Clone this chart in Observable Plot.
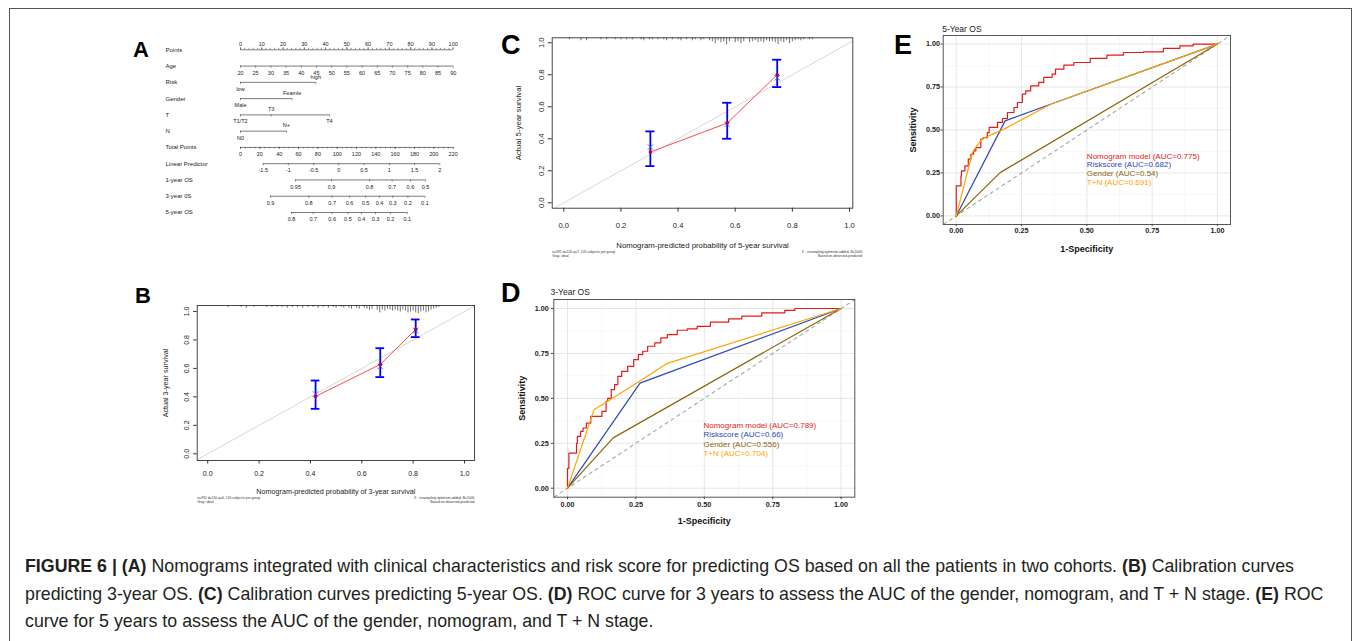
<!DOCTYPE html>
<html><head><meta charset="utf-8">
<script src="https://cdn.jsdelivr.net/npm/d3@7"></script>
<script src="https://cdn.jsdelivr.net/npm/@observablehq/plot@0.6"></script>
<style>
html,body{margin:0;padding:0;background:#fff;}
body{font-family:"Liberation Sans",Arial,Helvetica,sans-serif;}
#page{position:relative;width:1355px;height:641px;overflow:hidden;background:#fff;}
#border{position:absolute;left:9px;top:8px;width:1343px;height:720px;border:1.5px solid #555;box-sizing:border-box;}
.panel{position:absolute;}
.panel svg{overflow:visible;}
.letter{position:absolute;font-weight:bold;line-height:1;color:#000;}
#caption{position:absolute;left:25px;top:553px;font-size:17.8px;line-height:27.5px;color:#231f20;white-space:nowrap;}
</style>
</head><body>
<div id="page">
  <div id="border"></div>
  <div class="panel" id="pA" style="left:130px;top:30px"></div>
  <div class="panel" id="pB" style="left:150px;top:285px"></div>
  <div class="panel" id="pC" style="left:505px;top:20px"></div>
  <div class="panel" id="pD" style="left:495px;top:280px"></div>
  <div class="panel" id="pE" style="left:890px;top:20px"></div>
  <div class="letter" style="left:133px;top:39px;font-size:22px">A</div>
  <div class="letter" style="left:135px;top:285px;font-size:22px">B</div>
  <div class="letter" style="left:501px;top:31.5px;font-size:27px">C</div>
  <div class="letter" style="left:501px;top:280px;font-size:27px">D</div>
  <div class="letter" style="left:894px;top:31.5px;font-size:27px">E</div>
  <div id="caption"><b>FIGURE 6 | (A)</b> Nomograms integrated with clinical characteristics and risk score for predicting OS based on all the patients in two cohorts. <b>(B)</b> Calibration curves<br>predicting 3-year OS. <b>(C)</b> Calibration curves predicting 5-year OS. <b>(D)</b> ROC curve for 3 years to assess the AUC of the gender, nomogram, and T + N stage. <b>(E)</b> ROC<br>curve for 5 years to assess the AUC of the gender, nomogram, and T + N stage.</div>
</div>
<script>
const FONT = '"Liberation Sans", Arial, Helvetica, sans-serif';

// ---------- Panel A: nomogram ----------
const nomoRows = ["Points","Age","Risk","Gender","T","N","Total Points","Linear Predictor","1-year OS","3-year 0S","5-year OS"];
const pointsLabels = [0,10,20,30,40,50,60,70,80,90,100];
const ageLabels = [20,25,30,35,40,45,50,55,60,65,70,75,80,85,90];
const agePts = [0,7.1,14.3,21.4,28.6,35.7,42.9,50,57.1,64.3,71.4,78.6,85.7,92.9,100];
const riskLabels = ["low","high"];
const riskPts = [0,35.4];
const riskSide = [1,-1];
const genderLabels = ["Male","Feamle"];
const genderPts = [0,24.3];
const genderSide = [1,-1];
const tLabels = ["T1/T2","T3","T4"];
const tPts = [0,14.4,41.8];
const tSide = [1,-1,1];
const nLabels = ["N0","N+"];
const nPts = [0,21.6];
const nSide = [1,-1];
const totalLabels = [0,20,40,60,80,100,120,140,160,180,200,220];
const totalPts = [0,9.1,18.2,27.3,36.4,45.5,54.5,63.6,72.7,81.8,90.9,100];
const lpLabels = ["-1.5","-1","-0.5","0","0.5","1","1.5","2"];
const lpPts = [10.7,22.5,34.4,46.2,58.1,70.0,81.8,93.7];
const os1Labels = ["0.95","0.9","0.8","0.7","0.6","0.5"];
const os1Pts = [25.9,42.8,60.7,71.3,79.9,87.0];
const os3Labels = ["0.9","0.8","0.7","0.6","0.5","0.4","0.3","0.2","0.1"];
const os3Pts = [14.1,32.1,43.1,51.3,58.8,65.4,71.6,78.7,86.7];
const os5Labels = ["0.8","0.7","0.6","0.5","0.4","0.3","0.2","0.1"];
const os5Pts = [24.0,34.2,43.1,50.5,56.9,63.5,70.5,78.4];

// ---------- Panels B/C: calibration ----------
const calB_pred = [0.42,0.672,0.81];
const calB_obs = [0.403,0.628,0.874];
const calB_lo = [0.316,0.539,0.82];
const calB_hi = [0.515,0.742,0.944];
const calB_corr = [0.42,0.614,0.867];
const rugB_x = [0.08,0.13,0.15,0.18,0.23,0.25,0.27,0.29,0.31,0.33,0.35,0.37,0.39,0.41,0.43,0.45,0.47,0.49,0.50,0.52,0.53,0.55,0.56,0.58,0.59,0.61,0.62,0.63,0.64,0.66,0.67,0.68,0.69,0.70,0.71,0.72,0.73,0.74,0.75,0.76,0.77,0.78,0.79,0.80,0.81,0.82,0.83,0.84,0.85,0.86,0.87,0.88,0.89,0.90];
const rugB_n = [2,2,3,2,2,2,2,2,3,2,2,3,2,2,3,2,3,2,3,2,3,3,4,3,4,3,4,5,4,5,8,5,6,4,5,6,5,6,7,5,6,8,7,6,8,9,7,6,8,7,5,4,3,2];

const calC_pred = [0.303,0.572,0.747];
const calC_obs = [0.317,0.498,0.80];
const calC_lo = [0.229,0.40,0.723];
const calC_hi = [0.446,0.625,0.894];
const calC_corr = [0.348,0.49,0.781];
const rugC_x = [0.02,0.06,0.08,0.13,0.15,0.18,0.20,0.22,0.24,0.27,0.28,0.30,0.31,0.33,0.35,0.36,0.38,0.40,0.41,0.43,0.45,0.46,0.48,0.49,0.51,0.52,0.53,0.54,0.55,0.56,0.57,0.58,0.60,0.61,0.62,0.63,0.65,0.66,0.67,0.68,0.69,0.70,0.71,0.72,0.73,0.74,0.75,0.76,0.77,0.78,0.79,0.80,0.81,0.82,0.83,0.84,0.86,0.87];
const rugC_n = [2,3,3,2,2,2,2,2,2,2,3,2,2,2,2,3,2,2,3,2,3,2,3,2,3,4,6,3,5,4,7,4,5,4,6,4,5,4,3,5,4,5,3,4,4,5,7,4,5,3,6,4,3,2,3,2,2,2];

// ---------- Panels D/E: ROC ----------
const rocSeries = ["Nomogram model","Riskscore","Gender","T+N"];
const rocColors = ["#E41A1C","#2A48B8","#8B6508","#FFA500"];
const aucD = ["0.789","0.66","0.556","0.704"];
const aucE = ["0.775","0.682","0.54","0.691"];

const nomoD_x = [0,0,0.005,0.012,0.033,0.036,0.048,0.057,0.069,0.085,0.093,0.126,0.141,0.147,0.160,0.172,0.184,0.198,0.220,0.242,0.259,0.275,0.293,0.319,0.341,0.365,0.401,0.438,0.474,0.522,0.589,0.637,0.710,0.794,0.831,0.867,1.0];
const nomoD_y = [0,0.013,0.11,0.195,0.195,0.25,0.288,0.316,0.335,0.362,0.40,0.40,0.427,0.483,0.50,0.548,0.576,0.622,0.650,0.678,0.716,0.743,0.762,0.790,0.809,0.837,0.855,0.879,0.887,0.901,0.924,0.942,0.957,0.976,0.99,1.0,1.0];
const riskD_x = [0,0.265,1];
const riskD_y = [0,0.585,1];
const genderD_x = [0,0.167,1];
const genderD_y = [0,0.28,1];
const tnD_x = [0,0.097,0.262,0.362,1];
const tnD_y = [0,0.437,0.594,0.693,1];

const nomoE_x = [0,0,0.018,0.020,0.033,0.046,0.056,0.066,0.075,0.094,0.103,0.119,0.126,0.158,0.177,0.196,0.221,0.234,0.253,0.266,0.285,0.316,0.335,0.367,0.380,0.412,0.450,0.513,0.577,0.640,0.717,0.793,0.856,0.907,0.958,1.0];
const nomoE_y = [0,0.175,0.175,0.233,0.262,0.291,0.33,0.359,0.379,0.398,0.447,0.456,0.485,0.515,0.544,0.567,0.602,0.631,0.660,0.709,0.728,0.757,0.777,0.806,0.825,0.854,0.878,0.893,0.917,0.936,0.951,0.955,0.975,0.990,1.0,1.0];
const riskE_x = [0,0.187,0.361,1];
const riskE_y = [0,0.553,0.650,1];
const genderE_x = [0,0.168,1];
const genderE_y = [0,0.252,1];
const tnE_x = [0,0.062,0.069,0.100,0.183,0.361,1];
const tnE_y = [0,0.369,0.388,0.45,0.505,0.650,1];

// ====== build panel A ======
(function(){
  const axes = [
    {row:0, labels: pointsLabels.map(String), pts: pointsLabels, side: pointsLabels.map(() => -1), minor: d3.range(0, 101, 2)},
    {row:1, labels: ageLabels.map(String), pts: agePts, side: ageLabels.map(() => 1), minor: []},
    {row:2, labels: riskLabels, pts: riskPts, side: riskSide, minor: []},
    {row:3, labels: genderLabels, pts: genderPts, side: genderSide, minor: []},
    {row:4, labels: tLabels, pts: tPts, side: tSide, minor: []},
    {row:5, labels: nLabels, pts: nPts, side: nSide, minor: []},
    {row:6, labels: totalLabels.map(String), pts: totalPts, side: totalLabels.map(() => 1), minor: d3.range(0, 221, 5).map(v => v / 2.2)},
    {row:7, labels: lpLabels, pts: lpPts, side: lpLabels.map(() => 1), minor: []},
    {row:8, labels: os1Labels, pts: os1Pts, side: os1Labels.map(() => 1), minor: []},
    {row:9, labels: os3Labels, pts: os3Pts, side: os3Labels.map(() => 1), minor: []},
    {row:10, labels: os5Labels, pts: os5Pts, side: os5Labels.map(() => 1), minor: []}
  ];
  const segs = axes.map(a => ({row: a.row, x1: d3.min(a.pts), x2: d3.max(a.pts)}));
  const ticks = [];
  const labs = [];
  axes.forEach(a => {
    a.pts.forEach((p, i) => {
      const s = a.row === 0 ? -1 : 1;
      ticks.push({row: a.row, x: p, len: 0.13 * s});
      labs.push({row: a.row, x: p, text: a.labels[i], side: a.side[i]});
    });
    a.minor.forEach(p => ticks.push({row: a.row, x: p, len: (a.row === 0 ? -1 : 1) * 0.09}));
  });
  const svg = Plot.plot({
    width: 340, height: 200,
    marginLeft: 110, marginRight: 17.3, marginTop: 19.3, marginBottom: 18,
    x: {domain: [0, 100], axis: null},
    y: {domain: [0, 10], reverse: true, axis: null},
    style: {fontFamily: FONT, fontSize: "5.5px", color: "#222", background: "transparent"},
    marks: [
      Plot.ruleY(segs, {y: "row", x1: "x1", x2: "x2", stroke: "#444", strokeWidth: 0.7}),
      Plot.ruleX(ticks, {x: "x", y1: "row", y2: d => d.row + d.len, stroke: "#444", strokeWidth: 0.6}),
      Plot.text(labs, {x: "x", y: d => d.row + (d.side < 0 ? -0.34 : 0.42), text: "text", fill: "#222", fontSize: 5.5}),
      Plot.text(nomoRows, {y: (d, i) => i, frameAnchor: "left", dx: -75, textAnchor: "start", text: d => d, fill: "#222", fontSize: 6})
    ]
  });
  document.getElementById("pA").appendChild(svg);
})();

// ====== calibration builder ======
function calPlot(o) {
  const pts = o.pred.map((p, i) => ({x: p, obs: o.obs[i], lo: o.lo[i], hi: o.hi[i], corr: o.corr[i]}));
  const rug = o.rugX.map((x, i) => ({x, n: o.rugN[i]}));
  const top = o.ydom[1];
  const ticks = [0, 0.2, 0.4, 0.6, 0.8, 1.0];
  const f = o.fs;
  return Plot.plot({
    width: o.w, height: o.h,
    marginLeft: o.ml, marginRight: o.mr, marginTop: o.mt, marginBottom: o.mb,
    x: {domain: o.xdom, axis: null},
    y: {domain: o.ydom, axis: null},
    style: {fontFamily: FONT, fontSize: f + "px", color: "#222", background: "transparent"},
    marks: [
      Plot.link([o.xdom], {x1: d => d[0], y1: d => d[0], x2: d => d[1] + 0.1, y2: d => d[1] + 0.1, stroke: "#d8d8d8", strokeWidth: 1, clip: true}),
      Plot.ruleX(rug, {x: "x", y1: top, y2: d => top - d.n * o.rugK, stroke: "#333", strokeWidth: 0.7}),
      Plot.line(pts, {x: "x", y: "obs", stroke: "#FF4A4A", strokeWidth: 1}),
      Plot.ruleX(pts, {x: "x", y1: "lo", y2: "hi", stroke: "#0000FF", strokeWidth: 1.8}),
      Plot.ruleY(pts, {y: "lo", x1: d => d.x - o.cap, x2: d => d.x + o.cap, stroke: "#0000FF", strokeWidth: 1.8}),
      Plot.ruleY(pts, {y: "hi", x1: d => d.x - o.cap, x2: d => d.x + o.cap, stroke: "#0000FF", strokeWidth: 1.8}),
      Plot.dot(pts, {x: "x", y: "corr", symbol: "times", stroke: "#3355FF", r: 2.6, strokeWidth: 0.8}),
      Plot.dot(pts, {x: "x", y: "obs", fill: "#C0002A", stroke: "none", r: 1.8}),
      Plot.frame({stroke: "#333", strokeWidth: 0.9}),
      Plot.axisX({ticks, tickFormat: d3.format(".1f"), tickSize: o.tick, tickPadding: o.padX, fontSize: f, stroke: "#333", fill: "#222", label: null}),
      Plot.axisY({ticks, tickFormat: d3.format(".1f"), tickSize: o.tick, tickPadding: o.padY, tickRotate: -90, fontSize: f, stroke: "#333", fill: "#222", label: null}),
      Plot.text([o.xlabel], {frameAnchor: "bottom", dy: o.xlabDy, textAnchor: "middle", lineAnchor: "middle", fontSize: o.labFs, fill: "#222"}),
      Plot.text([o.ylabel], {frameAnchor: "left", dx: o.ylabDx, rotate: -90, textAnchor: "middle", lineAnchor: "middle", fontSize: o.labFs, fill: "#222"}),
      Plot.text([o.noteL1], {frameAnchor: "bottom-left", dy: o.noteDy, textAnchor: "start", lineAnchor: "middle", fontSize: 3.4, fill: "#333"}),
      Plot.text(["Gray: ideal"], {frameAnchor: "bottom-left", dy: o.noteDy + 4.6, textAnchor: "start", lineAnchor: "middle", fontSize: 3.4, fill: "#333"}),
      Plot.text(["X - resampling optimism added, B=1000"], {frameAnchor: "bottom-right", dx: o.noteDx, dy: o.noteDy, textAnchor: "end", lineAnchor: "middle", fontSize: 3.4, fill: "#333"}),
      Plot.text(["Based on observed-predicted"], {frameAnchor: "bottom-right", dx: o.noteDx, dy: o.noteDy + 4.6, textAnchor: "end", lineAnchor: "middle", fontSize: 3.4, fill: "#333"})
    ]
  });
}

document.getElementById("pB").appendChild(calPlot({
  pred: calB_pred, obs: calB_obs, lo: calB_lo, hi: calB_hi, corr: calB_corr,
  rugX: rugB_x, rugN: rugB_n, rugK: 0.0065,
  w: 340, h: 230, ml: 46.7, mr: 16, mt: 20, mb: 55,
  xdom: [-0.041, 1.039], ydom: [-0.047, 1.042],
  fs: 7, labFs: 7.2, tick: 3.5, padX: 6.7, padY: 4.5, cap: 0.017,
  xlabel: "Nomogram-predicted probability of 3-year survival", ylabel: "Actual 3-year survival",
  xlabDy: 31, ylabDx: -31.7, noteDy: 37.3, noteDx: 0,
  noteL1: "n=392 d=150 p=6, 120 subjects per group"
}));

document.getElementById("pC").appendChild(calPlot({
  pred: calC_pred, obs: calC_obs, lo: calC_lo, hi: calC_hi, corr: calC_corr,
  rugX: rugC_x, rugN: rugC_n, rugK: 0.0062,
  w: 370, h: 245, ml: 46.7, mr: 22.7, mt: 17.3, mb: 57.3,
  xdom: [-0.0406, 1.0116], ydom: [-0.034, 1.031],
  fs: 7.6, labFs: 7.8, tick: 4, padX: 10.6, padY: 4.7, cap: 0.016,
  xlabel: "Nomogram-predicted probability of 5-year survival", ylabel: "Actual 5-year survival",
  xlabDy: 37.3, ylabDx: -33.4, noteDy: 43.3, noteDx: 9.4,
  noteL1: "n=392 d=150 p=7, 120 subjects per group"
}));

// ====== ROC builder ======
function rocPlot(o) {
  const major = [0, 0.25, 0.5, 0.75, 1];
  const minor = [0.125, 0.375, 0.625, 0.875];
  const dom = [-0.05, 1.05];
  const toRows = (xs, ys) => xs.map((x, i) => ({x, y: ys[i]}));
  const leg = rocSeries.map((s, i) => ({t: `${s} (AUC=${o.auc[i]})`, y: o.legY[i], c: rocColors[i]}));
  return Plot.plot({
    width: o.w, height: o.h,
    marginLeft: o.ml, marginRight: o.mr, marginTop: o.mt, marginBottom: o.mb,
    x: {domain: dom, axis: null},
    y: {domain: dom, axis: null},
    color: {type: "identity"},
    style: {fontFamily: FONT, fontSize: "7.5px", color: "#222", background: "transparent"},
    marks: [
      Plot.gridX(minor, {stroke: "#F2F2F2", strokeOpacity: 1, strokeWidth: 0.6}),
      Plot.gridY(minor, {stroke: "#F2F2F2", strokeOpacity: 1, strokeWidth: 0.6}),
      Plot.gridX(major, {stroke: "#E6E6E6", strokeOpacity: 1, strokeWidth: 1}),
      Plot.gridY(major, {stroke: "#E6E6E6", strokeOpacity: 1, strokeWidth: 1}),
      Plot.link([dom], {x1: d => d[0], y1: d => d[0], x2: d => d[1], y2: d => d[1], stroke: "#A8A8A8", strokeWidth: 1.1, strokeDasharray: "4,3"}),
      Plot.line(toRows(o.nomoX, o.nomoY), {x: "x", y: "y", stroke: rocColors[0], strokeWidth: 1.2, curve: "step-before"}),
      Plot.line(toRows(o.riskX, o.riskY), {x: "x", y: "y", stroke: rocColors[1], strokeWidth: 1.2}),
      Plot.line(toRows(o.genX, o.genY), {x: "x", y: "y", stroke: rocColors[2], strokeWidth: 1.2}),
      Plot.line(toRows(o.tnX, o.tnY), {x: "x", y: "y", stroke: rocColors[3], strokeWidth: 1.2}),
      Plot.frame({stroke: "#555", strokeWidth: 1}),
      Plot.axisX({ticks: major, tickFormat: d3.format(".2f"), tickSize: o.tick, tickPadding: o.padX, fontWeight: "bold", fontSize: 7.2, stroke: "#444", fill: "#222", label: null}),
      Plot.axisY({ticks: major, tickFormat: d3.format(".2f"), tickSize: o.tick, tickPadding: o.padY, fontWeight: "bold", fontSize: 7.2, stroke: "#444", fill: "#222", label: null}),
      Plot.text(leg, {x: o.legX, y: "y", text: "t", fill: "c", textAnchor: "start", fontSize: 8}),
      Plot.text(["1-Specificity"], {frameAnchor: "bottom", dy: o.xlabDy, textAnchor: "middle", lineAnchor: "middle", fontWeight: "bold", fontSize: 9, fill: "#111"}),
      Plot.text(["Sensitivity"], {frameAnchor: "left", dx: o.ylabDx, rotate: -90, textAnchor: "middle", lineAnchor: "middle", fontWeight: "bold", fontSize: 9, fill: "#111"}),
      Plot.text([o.title], {frameAnchor: "top-left", dx: o.titleDx, dy: o.titleDy, textAnchor: "start", lineAnchor: "middle", fontSize: 8.5, fill: "#222"})
    ]
  });
}

document.getElementById("pD").appendChild(rocPlot({
  w: 370, h: 250, ml: 58.3, mr: 10.7, mt: 19, mb: 33.3,
  nomoX: nomoD_x, nomoY: nomoD_y, riskX: riskD_x, riskY: riskD_y, genX: genderD_x, genY: genderD_y, tnX: tnD_x, tnY: tnD_y,
  auc: aucD, legX: 0.497, legY: [0.349, 0.297, 0.245, 0.195],
  tick: 2.5, padX: 2.1, padY: 2.6, xlabDy: 24.3, ylabDx: -31.3, title: "3-Year OS", titleDx: -3.3, titleDy: -7
}));

document.getElementById("pE").appendChild(rocPlot({
  w: 360, h: 240, ml: 52.7, mr: 20, mt: 15, mb: 36,
  nomoX: nomoE_x, nomoY: nomoE_y, riskX: riskE_x, riskY: riskE_y, genX: genderE_x, genY: genderE_y, tnX: tnE_x, tnY: tnE_y,
  auc: aucE, legX: 0.50, legY: [0.349, 0.297, 0.247, 0.195],
  tick: 2, padX: 1.6, padY: 1.2, xlabDy: 25, ylabDx: -30, title: "5-Year OS", titleDx: -1, titleDy: -6.7
}));
</script>
</body></html>
